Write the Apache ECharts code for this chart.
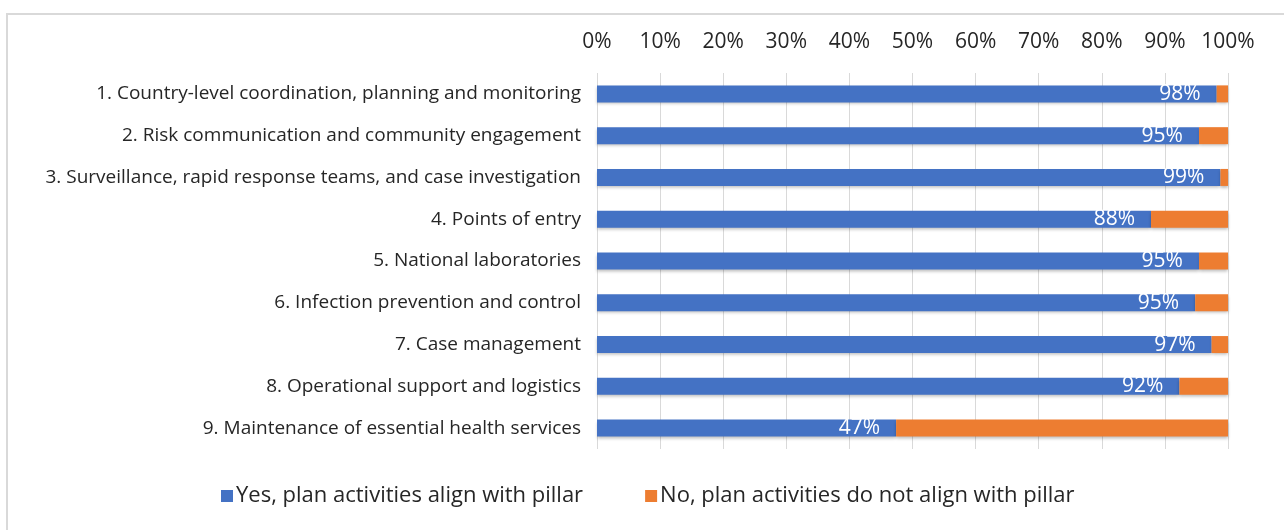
<!DOCTYPE html>
<html>
<head>
<meta charset="utf-8">
<script src="https://cdn.jsdelivr.net/npm/echarts@6/dist/echarts.min.js"></script>
<style>
  html, body { margin: 0; padding: 0; background: #fff; }
  #frame {
    position: absolute; left: 6px; top: 13px; width: 1300px; height: 540px;
    border-left: 2px solid #d9d9d9; border-top: 2px solid #d9d9d9;
  }
  #chart { position: absolute; left: 0; top: 0; width: 1284px; height: 530px; }
</style>
</head>
<body>
<div id="frame"></div>
<div id="chart"></div>
<script>
const pillars = [
  '1. Country-level coordination, planning and monitoring',
  '2. Risk communication and community engagement',
  '3. Surveillance, rapid response teams, and case investigation',
  '4. Points of entry',
  '5. National laboratories',
  '6. Infection prevention and control',
  '7. Case management',
  '8. Operational support and logistics',
  '9. Maintenance of essential health services'
];
const yesValues = [98.2, 95.4, 98.8, 87.8, 95.4, 94.8, 97.4, 92.3, 47.4];
const noValues = yesValues.map(v => +(100 - v).toFixed(1));
const seriesNames = [
  'Yes, plan activities align with pillar',
  'No, plan activities do not align with pillar'
];

const font = '"Open Sans", Lato, sans-serif';
const chart = echarts.init(document.getElementById('chart'));

// soft drop shadow under the bars, like the office chart
const barShadow = { shadowColor: 'rgba(0,0,0,0.25)', shadowBlur: 3, shadowOffsetY: 2 };

chart.setOption({
  backgroundColor: 'transparent',
  textStyle: { fontFamily: font },
  grid: { left: 597, right: 56, top: 73, bottom: 81 },
  legend: {
    bottom: 18,
    left: 216,
    itemWidth: 12,
    itemHeight: 12,
    itemGap: 62,
    icon: 'rect',
    textStyle: { fontSize: 22, color: '#262626', fontFamily: font, padding: [0, 0, 0, -2] },
    data: seriesNames
  },
  xAxis: {
    type: 'value',
    position: 'top',
    min: 0,
    max: 100,
    interval: 10,
    axisLine: { show: false },
    axisTick: { show: false },
    splitLine: { lineStyle: { color: '#d9d9d9', width: 1 } },
    axisLabel: {
      formatter: '{value}%',
      fontSize: 21,
      color: '#262626',
      margin: 20
    }
  },
  yAxis: {
    type: 'category',
    inverse: true,
    data: pillars,
    axisLine: { show: false },
    axisTick: { show: false },
    axisLabel: { fontSize: 19, color: '#262626', margin: 16 }
  },
  series: [
    {
      name: seriesNames[0],
      type: 'bar',
      stack: 'total',
      barWidth: 17,
      data: yesValues,
      itemStyle: Object.assign({ color: '#4472C4' }, barShadow),
      label: {
        show: true,
        position: 'insideRight',
        distance: 16,
        color: '#fff',
        fontSize: 21,
        fontFamily: font,
        formatter: p => Math.round(p.value) + '%'
      }
    },
    {
      name: seriesNames[1],
      type: 'bar',
      stack: 'total',
      barWidth: 17,
      data: noValues,
      itemStyle: Object.assign({ color: '#ED7D31' }, barShadow)
    }
  ]
});
</script>
</body>
</html>
